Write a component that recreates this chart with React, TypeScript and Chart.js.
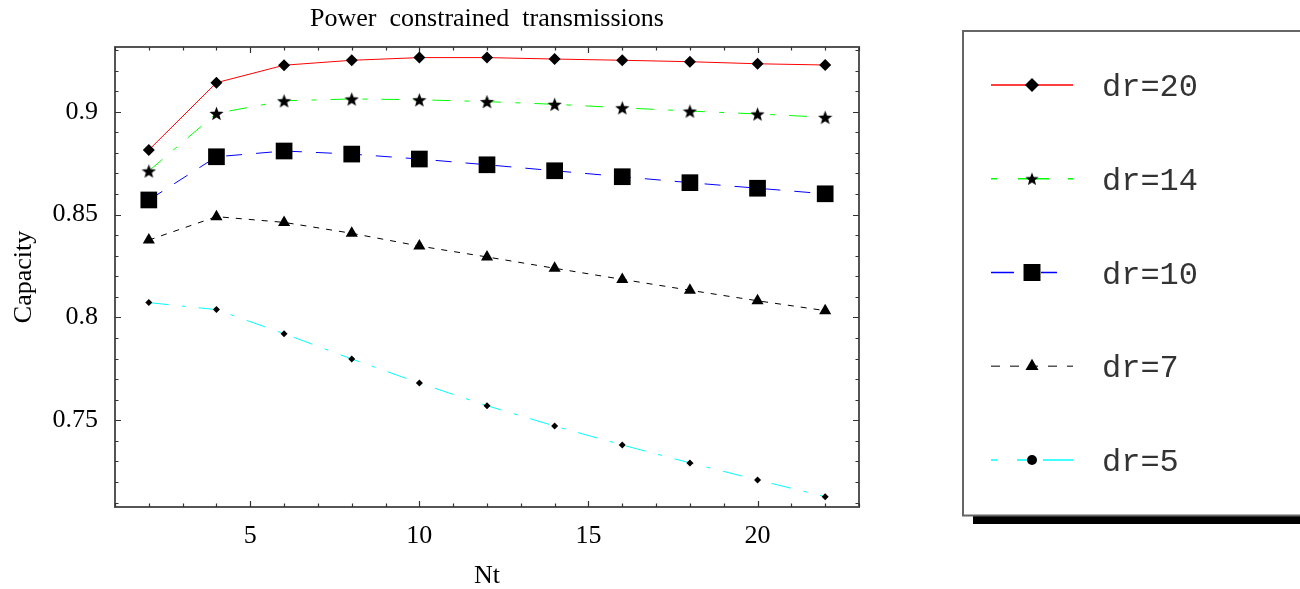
import React, { useEffect, useRef } from 'react';
import { Chart, registerables } from 'chart.js';
import { drawPoint } from 'chart.js/helpers';

Chart.register(...registerables);

// ---- data ----
const ntValues = [2, 4, 6, 8, 10, 12, 14, 16, 18, 20, 22];
const dr20 = [0.8814, 0.9141, 0.9226, 0.925, 0.9263, 0.9263, 0.9256, 0.925, 0.9243, 0.9233, 0.9227];
const dr14 = [0.8712, 0.8992, 0.9053, 0.9062, 0.9058, 0.9049, 0.9036, 0.9019, 0.9003, 0.8989, 0.8973];
const dr10 = [0.8571, 0.8781, 0.8809, 0.8794, 0.877, 0.8742, 0.8713, 0.8684, 0.8655, 0.8628, 0.8601];
const dr7 = [0.8376, 0.849, 0.8462, 0.8409, 0.8347, 0.8294, 0.8239, 0.8185, 0.8132, 0.8081, 0.8033];
const dr5 = [0.8072, 0.8038, 0.7921, 0.7798, 0.7681, 0.7571, 0.7472, 0.738, 0.7293, 0.721, 0.7129];
const seriesLabels = ['dr=20', 'dr=14', 'dr=10', 'dr=7', 'dr=5'];
const xTickValues = [5, 10, 15, 20];
const yTickValues = [0.75, 0.8, 0.85, 0.9];
const xMin = 1;
const xMax = 23;
const yMin = 0.70786;
const yMax = 0.93145;

const titleText = 'Power  constrained  transmissions';
const xTitle = 'Nt';
const yTitle = 'Capacity';

const serif = "'Liberation Serif', 'Times New Roman', serif";
const mono = "'Liberation Mono', 'Courier New', monospace";

function makeStar(size: number): HTMLCanvasElement {
  const c = document.createElement('canvas');
  c.width = size;
  c.height = size;
  const ctx = c.getContext('2d')!;
  const cx = size / 2;
  const cy = size / 2 + size * 0.05;
  const R = size / 2;
  const r = R * 0.42;
  ctx.beginPath();
  for (let i = 0; i < 10; i++) {
    const a = -Math.PI / 2 + (i * Math.PI) / 5;
    const rad = i % 2 ? r : R;
    ctx.lineTo(cx + rad * Math.cos(a), cy + rad * Math.sin(a));
  }
  ctx.closePath();
  ctx.fillStyle = '#000';
  ctx.fill();
  return c;
}

function toPoints(arr: number[]) {
  return ntValues.map((x, i) => ({ x, y: arr[i] }));
}

const framePlugin = {
  id: 'mmaFrame',
  beforeDatasetsDraw(chart: any) {
    const { ctx, chartArea } = chart;
    const { left, right, top, bottom } = chartArea;
    const xs = chart.scales.x;
    const ys = chart.scales.y;
    ctx.save();
    ctx.strokeStyle = '#555';
    ctx.lineWidth = 2;
    ctx.strokeRect(left, top, right - left, bottom - top);
    ctx.lineWidth = 1.2;
    ctx.strokeStyle = '#333';
    ctx.beginPath();
    for (let v = Math.ceil(xs.min); v <= Math.floor(xs.max); v++) {
      const px = Math.round(xs.getPixelForValue(v)) + 0.5;
      const len = v % 5 === 0 ? 6 : 3.5;
      ctx.moveTo(px, bottom);
      ctx.lineTo(px, bottom - len);
      ctx.moveTo(px, top);
      ctx.lineTo(px, top + len);
    }
    for (let k = Math.ceil(ys.min * 100); k <= Math.floor(ys.max * 100); k++) {
      const py = Math.round(ys.getPixelForValue(k / 100)) + 0.5;
      const len = k % 5 === 0 ? 6 : 3.5;
      ctx.moveTo(left, py);
      ctx.lineTo(left + len, py);
      ctx.moveTo(right, py);
      ctx.lineTo(right - len, py);
    }
    ctx.stroke();
    ctx.restore();
  },
};

const legendPlugin = {
  id: 'boxLegend',
  afterDraw(chart: any) {
    const ctx = chart.ctx;
    const boxL = 963;
    const boxT = 31;
    const boxB = 515.5;
    ctx.save();
    ctx.fillStyle = '#000';
    ctx.fillRect(973, boxB, 340, 8.5);
    ctx.fillStyle = '#fff';
    ctx.fillRect(boxL, boxT, 400, boxB - boxT);
    ctx.strokeStyle = '#666';
    ctx.lineWidth = 2;
    ctx.strokeRect(boxL, boxT, 400, boxB - boxT);

    const rowY0 = 85;
    const rowStep = 93.75;
    const lineX0 = 991;
    const lineX1 = 1073;
    const markX = 1032;
    chart.data.datasets.forEach((ds: any, i: number) => {
      const y = rowY0 + i * rowStep;
      ctx.save();
      ctx.strokeStyle = ds.legendLineColor || ds.borderColor;
      ctx.lineWidth = 1.3;
      ctx.setLineDash(ds.legendDash || []);
      ctx.beginPath();
      ctx.moveTo(lineX0, y);
      ctx.lineTo(lineX1, y);
      ctx.stroke();
      ctx.restore();
      ctx.save();
      ctx.fillStyle = '#000';
      ctx.strokeStyle = '#000';
      drawPoint(ctx, {
        pointStyle: ds.legendPointStyle || ds.pointStyle,
        radius: ds.legendRadius || ds.pointRadius,
        rotation: 0,
        borderWidth: 0,
      } as any, markX, y);
      ctx.restore();
      ctx.fillStyle = '#333';
      ctx.font = `32px ${mono}`;
      ctx.textAlign = 'left';
      ctx.textBaseline = 'alphabetic';
      ctx.fillText(ds.label, 1102, y + 11);
    });
    ctx.restore();
  },
};

export default function App() {
  const canvasRef = useRef<HTMLCanvasElement | null>(null);

  useEffect(() => {
    const canvas = canvasRef.current;
    if (!canvas) return;
    const star = makeStar(15);
    const starLegend = makeStar(14);

    const common = {
      borderWidth: 1,
      pointBackgroundColor: '#000',
      pointBorderColor: '#000',
      pointBorderWidth: 0,
      pointHoverRadius: 0,
      tension: 0,
      fill: false,
    };

    const chart = new Chart(canvas, {
      type: 'line',
      data: {
        datasets: [
          {
            ...common,
            label: seriesLabels[0],
            data: toPoints(dr20),
            borderColor: '#ff0000',
            borderDash: [],
            pointStyle: 'rectRot',
            pointRadius: 6,
            legendDash: [],
            legendRadius: 7,
          },
          {
            ...common,
            label: seriesLabels[1],
            data: toPoints(dr14),
            borderColor: '#00ff00',
            borderDash: [18, 14, 5, 14],
            pointStyle: star,
            pointRadius: 7,
            legendDash: [6, 21, 31, 19, 4, 0],
            legendPointStyle: starLegend,
          },
          {
            ...common,
            label: seriesLabels[2],
            data: toPoints(dr10),
            borderColor: '#0000ff',
            borderDash: [16, 14],
            pointStyle: 'rect',
            pointRadius: 11.8,
            legendDash: [23, 27, 16, 16],
            legendRadius: 12,
          },
          {
            ...common,
            label: seriesLabels[3],
            data: toPoints(dr7),
            borderColor: '#000000',
            borderDash: [6, 7],
            pointStyle: 'triangle',
            pointRadius: 7,
            legendDash: [9, 10],
            legendLineColor: '#555',
            legendRadius: 7.5,
          },
          {
            ...common,
            label: seriesLabels[4],
            data: toPoints(dr5),
            borderColor: '#00ffff',
            borderDash: [20, 13, 4, 13],
            pointStyle: 'rectRot',
            pointRadius: 3.5,
            legendDash: [6, 20, 10, 16, 30, 0],
            legendPointStyle: 'circle',
            legendRadius: 5,
          },
        ] as any,
      },
      options: {
        responsive: false,
        animation: false,
        events: [],
        layout: { padding: { left: 0, right: 441, top: 0, bottom: 0 } },
        plugins: {
          legend: { display: false },
          tooltip: { enabled: false },
          title: {
            display: true,
            text: titleText,
            fullSize: false,
            color: '#000',
            font: { family: serif, size: 26, weight: 'normal', lineHeight: 1.2 },
            padding: { top: 3.3, bottom: 12.5 },
          },
        },
        scales: {
          x: {
            type: 'linear',
            min: xMin,
            max: xMax,
            grid: { display: false, drawTicks: false },
            border: { display: false },
            afterBuildTicks: (s: any) => {
              s.ticks = xTickValues.map((v) => ({ value: v }));
            },
            afterFit: (s: any) => {
              s.height = 82;
            },
            ticks: {
              autoSkip: false,
              maxRotation: 0,
              padding: 14,
              color: '#000',
              font: { family: serif, size: 26, lineHeight: 1.2 },
              callback: (v: any) => String(v),
            },
            title: {
              display: true,
              text: xTitle,
              color: '#000',
              font: { family: serif, size: 26, lineHeight: 1 },
              padding: { top: 0, bottom: 0 },
            },
          },
          y: {
            type: 'linear',
            min: yMin,
            max: yMax,
            grid: { display: false, drawTicks: false },
            border: { display: false },
            afterBuildTicks: (s: any) => {
              s.ticks = yTickValues.map((v) => ({ value: v }));
            },
            afterFit: (s: any) => {
              s.width = 115;
            },
            ticks: {
              autoSkip: false,
              padding: 17,
              color: '#000',
              font: { family: serif, size: 26, lineHeight: 1.2 },
              callback: (v: any) => String(v),
            },
            title: {
              display: true,
              text: yTitle,
              color: '#000',
              font: { family: serif, size: 26, lineHeight: 1 },
              padding: { top: 11, bottom: 0 },
            },
          },
        },
      } as any,
      plugins: [framePlugin, legendPlugin],
    });

    return () => {
      chart.destroy();
    };
  }, []);

  return (
    <div style={{ position: 'absolute', left: 0, top: 0, width: 1300, height: 589, background: '#fff' }}>
      <canvas ref={canvasRef} width={1300} height={589} style={{ display: 'block', width: 1300, height: 589 }} />
    </div>
  );
}
